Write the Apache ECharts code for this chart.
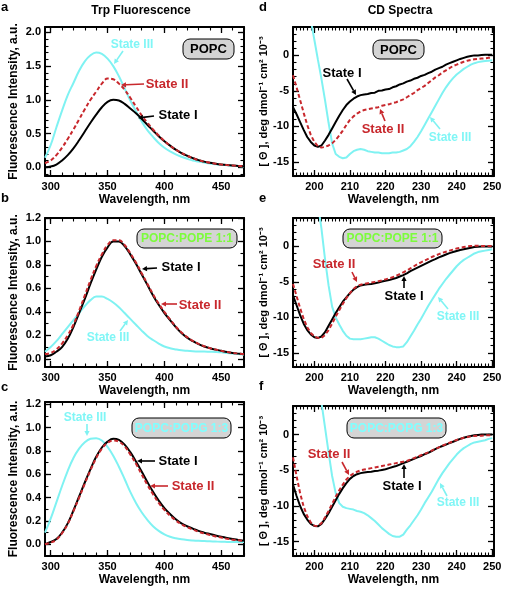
<!DOCTYPE html>
<html><head><meta charset="utf-8">
<script src="https://cdn.jsdelivr.net/npm/echarts@6/dist/echarts.min.js"></script>
<style>html,body{margin:0;padding:0;background:#fff}#c{width:505px;height:590px}</style>
</head><body><div id="c"></div>
<script>
// ---------- DATA ----------
const fluorWavelengths = [295,300,305,310,315,320,325,330,335,340,345,350,355,360,365,370,375,380,385,390,395,400,405,410,415,420,425,430,435,440,445,450,455,460,465,470];
// Panel a: POPC
const fluorPOPC_I   = [0.00,0.01,0.04,0.10,0.18,0.28,0.40,0.53,0.66,0.78,0.89,0.97,1.00,0.99,0.94,0.87,0.80,0.72,0.63,0.545,0.46,0.385,0.32,0.26,0.21,0.17,0.135,0.105,0.083,0.065,0.052,0.041,0.032,0.025,0.02,0.015];
const fluorPOPC_II  = [0.06,0.10,0.18,0.29,0.42,0.56,0.71,0.86,1.00,1.12,1.24,1.315,1.305,1.24,1.15,1.03,0.90,0.77,0.66,0.56,0.47,0.39,0.32,0.26,0.21,0.17,0.135,0.105,0.083,0.065,0.052,0.041,0.032,0.025,0.02,0.015];
const fluorPOPC_III = [0.14,0.33,0.59,0.84,1.07,1.25,1.43,1.57,1.66,1.70,1.68,1.61,1.50,1.35,1.17,0.99,0.83,0.68,0.55,0.45,0.36,0.29,0.235,0.19,0.155,0.125,0.10,0.085,0.07,0.055,0.045,0.035,0.03,0.022,0.018,0.012];
// Panel b: POPC:POPE 1:1
const fluorPOPE_I   = [0.02,0.03,0.06,0.10,0.17,0.27,0.39,0.51,0.64,0.76,0.87,0.95,1.00,1.00,0.96,0.89,0.81,0.72,0.63,0.54,0.46,0.39,0.33,0.27,0.22,0.18,0.15,0.125,0.105,0.09,0.078,0.068,0.058,0.05,0.044,0.038];
const fluorPOPE_II  = [0.04,0.05,0.08,0.13,0.20,0.29,0.41,0.54,0.67,0.79,0.89,0.97,1.01,1.01,0.97,0.90,0.82,0.73,0.64,0.55,0.47,0.40,0.335,0.275,0.225,0.185,0.153,0.127,0.107,0.091,0.079,0.068,0.058,0.05,0.044,0.038];
const fluorPOPE_III = [0.06,0.10,0.15,0.21,0.27,0.33,0.39,0.45,0.50,0.53,0.53,0.51,0.48,0.44,0.39,0.34,0.29,0.24,0.195,0.16,0.13,0.105,0.09,0.08,0.072,0.068,0.065,0.063,0.062,0.06,0.058,0.055,0.05,0.045,0.04,0.035];
// Panel c: POPC:POPG 1:3
const fluorPOPG_I   = [0.00,0.02,0.045,0.10,0.18,0.29,0.41,0.53,0.645,0.75,0.83,0.88,0.905,0.895,0.855,0.79,0.71,0.625,0.535,0.45,0.375,0.31,0.26,0.215,0.18,0.155,0.135,0.115,0.10,0.088,0.076,0.065,0.055,0.046,0.038,0.03];
const fluorPOPG_II  = [0.00,0.015,0.04,0.095,0.175,0.285,0.40,0.52,0.635,0.74,0.82,0.87,0.89,0.88,0.84,0.77,0.69,0.60,0.51,0.43,0.355,0.295,0.245,0.205,0.172,0.147,0.127,0.108,0.093,0.08,0.068,0.058,0.048,0.04,0.034,0.028];
const fluorPOPG_III = [0.10,0.22,0.36,0.50,0.63,0.74,0.82,0.875,0.905,0.91,0.89,0.835,0.76,0.665,0.56,0.45,0.355,0.275,0.21,0.155,0.115,0.085,0.065,0.052,0.043,0.037,0.033,0.03,0.028,0.026,0.024,0.022,0.021,0.02,0.02,0.02];

const cdWavelengths = [194,195,196,197,198,199,200,201,202,203,204,205,206,207,208,209,210,211,212,213,214,215,216,217,218,219,220,221,222,223,224,225,226,227,228,229,230,231,232,233,234,235,236,237,238,239,240,241,242,243,244,245,246,247,248,249,250];
// Panel d: POPC
const cdPOPC_I   = [-7.3,-8.3,-9.4,-10.5,-11.5,-12.2,-12.7,-12.9,-12.7,-12.0,-11.2,-10.3,-9.4,-8.5,-7.7,-7.0,-6.5,-6.1,-5.8,-5.6,-5.5,-5.45,-5.3,-5.25,-5.0,-4.95,-4.8,-4.75,-4.5,-4.35,-4.1,-3.95,-3.7,-3.55,-3.3,-3.15,-2.9,-2.75,-2.5,-2.3,-2.0,-1.8,-1.6,-1.3,-1.1,-0.9,-0.7,-0.5,-0.35,-0.2,-0.1,0.0,0.0,0.05,0.1,0.1,0.1];
const cdPOPC_II  = [-2.8,-4.5,-6.3,-8.1,-9.8,-11.2,-12.2,-12.8,-13.0,-12.9,-12.7,-12.4,-11.9,-11.3,-10.6,-9.8,-9.1,-8.6,-8.2,-7.9,-7.7,-7.6,-7.5,-7.4,-7.3,-7.1,-7.0,-6.9,-6.7,-6.6,-6.4,-6.2,-5.9,-5.6,-5.3,-4.9,-4.6,-4.3,-3.9,-3.5,-3.1,-2.8,-2.4,-2.1,-1.8,-1.5,-1.3,-1.1,-0.9,-0.75,-0.65,-0.55,-0.5,-0.45,-0.4,-0.35,-0.3];
const cdPOPC_III = [20,17,14,11,8,5,2.2,-0.6,-3.3,-6.3,-9.5,-12.4,-13.9,-14.3,-14.5,-14.4,-13.9,-13.5,-13.3,-13.2,-13.3,-13.5,-13.6,-13.7,-13.7,-13.8,-13.8,-13.8,-13.7,-13.7,-13.6,-13.4,-13.2,-12.8,-12.2,-11.5,-10.7,-9.8,-8.9,-8.0,-7.1,-6.2,-5.3,-4.5,-3.8,-3.2,-2.7,-2.3,-1.9,-1.6,-1.3,-1.1,-0.95,-0.85,-0.8,-0.75,-0.7];
// Panel e: POPC:POPE 1:1
const cdPOPE_I   = [-6.9,-8.3,-9.7,-10.9,-11.8,-12.4,-12.8,-12.9,-12.7,-12.1,-11.2,-10.3,-9.4,-8.6,-7.8,-7.2,-6.6,-6.1,-5.75,-5.5,-5.4,-5.35,-5.3,-5.2,-5.1,-4.95,-4.85,-4.75,-4.6,-4.45,-4.25,-4.05,-3.8,-3.5,-3.25,-3.0,-2.75,-2.5,-2.25,-2.0,-1.8,-1.55,-1.35,-1.15,-0.95,-0.8,-0.65,-0.5,-0.4,-0.3,-0.2,-0.1,-0.05,0,0,0,0];
const cdPOPE_II  = [-5.3,-7.0,-8.7,-10.2,-11.4,-12.2,-12.7,-12.9,-12.9,-12.5,-11.8,-10.9,-9.9,-9.0,-8.1,-7.3,-6.6,-6.0,-5.6,-5.4,-5.3,-5.2,-5.1,-5.0,-4.9,-4.8,-4.65,-4.5,-4.35,-4.15,-3.9,-3.65,-3.4,-3.1,-2.8,-2.5,-2.25,-2.0,-1.75,-1.5,-1.3,-1.1,-0.9,-0.75,-0.6,-0.45,-0.3,-0.2,-0.1,0,0.05,0.1,0.1,0.05,0.05,0.05,0.05];
const cdPOPE_III = [30,27,24,20,17,13,9.5,6,2.5,-1.8,-5.5,-8.5,-10.0,-11.0,-11.9,-12.6,-13.0,-13.1,-13.1,-13.1,-13.0,-12.9,-12.8,-12.8,-13.0,-13.3,-13.6,-13.9,-14.1,-14.2,-14.2,-14.1,-13.5,-12.7,-11.9,-11.0,-10.2,-9.3,-8.4,-7.6,-6.8,-6.0,-5.3,-4.6,-4.0,-3.4,-2.8,-2.3,-1.9,-1.6,-1.3,-1.0,-0.8,-0.7,-0.6,-0.5,-0.4];
// Panel f: POPC:POPG 1:3
const cdPOPG_I   = [-7.0,-8.6,-10.0,-11.1,-11.9,-12.5,-12.8,-12.85,-12.5,-11.8,-11.0,-10.1,-9.2,-8.3,-7.5,-6.8,-6.2,-5.8,-5.55,-5.4,-5.3,-5.25,-5.2,-5.1,-5.05,-4.95,-4.85,-4.7,-4.55,-4.4,-4.2,-4.0,-3.8,-3.6,-3.4,-3.2,-3.0,-2.75,-2.55,-2.3,-2.05,-1.8,-1.6,-1.4,-1.2,-1.0,-0.8,-0.6,-0.45,-0.3,-0.2,-0.1,-0.05,0,0,0,0];
const cdPOPG_II  = [-3.2,-5.8,-8.2,-10.1,-11.4,-12.3,-12.75,-12.8,-12.4,-11.6,-10.7,-9.7,-8.7,-7.8,-7.0,-6.3,-5.8,-5.45,-5.2,-5.0,-4.9,-4.8,-4.7,-4.6,-4.5,-4.4,-4.3,-4.2,-4.1,-4.0,-3.9,-3.8,-3.7,-3.5,-3.3,-3.1,-2.9,-2.7,-2.5,-2.25,-2.0,-1.8,-1.55,-1.35,-1.15,-0.95,-0.75,-0.6,-0.45,-0.35,-0.25,-0.2,-0.15,-0.15,-0.1,-0.1,-0.1];
const cdPOPG_III = [30,27,24,21,18,14.5,11,7.5,4.5,1.0,-2.5,-5.8,-8.2,-9.6,-10.1,-10.3,-10.4,-10.5,-10.7,-10.8,-11.0,-11.3,-11.7,-12.1,-12.6,-13.1,-13.5,-13.9,-14.2,-14.3,-14.3,-14.0,-13.3,-12.7,-12.0,-11.3,-10.5,-9.6,-8.8,-8.0,-7.1,-6.2,-5.4,-4.7,-4.0,-3.4,-2.8,-2.3,-1.9,-1.6,-1.3,-1.1,-1.0,-0.9,-0.8,-0.6,-0.5];

// tick labels
const fluorXTicks = [300,350,400,450];
const fluorYTicksA = [0,0.5,1.0,1.5,2.0];
const fluorYTicksBC = [0,0.2,0.4,0.6,0.8,1.0,1.2];
const cdXTicks = [200,210,220,230,240,250];
const cdYTicks = [-15,-10,-5,0];

// ---------- BUILD ----------
const FONT = '"Liberation Sans", Arial, Helvetica, sans-serif';
const C_BLACK = '#000000', C_RED = '#c8282d', C_CYAN = '#7ff2f2';
const grids = [], xAxes = [], yAxes = [], series = [];

function steps(a, b, s) { const r = []; for (let v = a; v <= b + 1e-9; v += s) r.push(Math.round(v * 1000) / 1000); return r; }

const lblStyle = {color:'#000', fontSize:11, fontWeight:'bold', fontFamily:FONT};
const nameStyle = {color:'#000', fontSize:12, fontWeight:'bold', fontFamily:FONT};

function addPanel(box, xs, ys) {
  const gi = grids.length;
  grids.push({left:box[0], top:box[1], width:box[2], height:box[3], containLabel:false});
  const base = (a) => ({gridIndex:gi, type:'value', min:a.min, max:a.max, splitLine:{show:false}, splitArea:{show:false}, axisPointer:{show:false}});
  const line = {show:true, onZero:false, lineStyle:{color:'#000', width:2}};
  const noLine = {show:false, onZero:false};
  const tMaj = (v) => ({show:true, inside:true, length:6, customValues:v, lineStyle:{color:'#000', width:1.3}});
  const tMin = (v) => ({show:true, inside:true, length:3.5, customValues:v, lineStyle:{color:'#000', width:1.1}});
  const xi = xAxes.length;
  xAxes.push(Object.assign(base(xs), {position:'bottom', axisLine:line, axisTick:tMaj(xs.major),
    axisLabel:Object.assign({show:true, customValues:xs.major, margin:5, formatter:xs.fmt}, lblStyle),
    name:'Wavelength, nm', nameLocation:'middle', nameGap:18, nameTextStyle:nameStyle}));
  xAxes.push(Object.assign(base(xs), {position:'bottom', axisLine:noLine, axisTick:tMin(xs.minor), axisLabel:{show:false}}));
  xAxes.push(Object.assign(base(xs), {position:'top', axisLine:line, axisTick:tMaj(xs.major), axisLabel:{show:false}}));
  xAxes.push(Object.assign(base(xs), {position:'top', axisLine:noLine, axisTick:tMin(xs.minor), axisLabel:{show:false}}));
  const yi = yAxes.length;
  yAxes.push(Object.assign(base(ys), {position:'left', axisLine:line, axisTick:tMaj(ys.major),
    axisLabel:Object.assign({show:true, customValues:ys.major, margin:4, formatter:ys.fmt}, lblStyle),
    name:ys.name, nameLocation:'middle', nameGap:ys.gap, nameRotate:90, nameTextStyle:Object.assign({}, nameStyle, ys.nameStyle || {})}));
  yAxes.push(Object.assign(base(ys), {position:'left', axisLine:noLine, axisTick:tMin(ys.minor), axisLabel:{show:false}}));
  yAxes.push(Object.assign(base(ys), {position:'right', axisLine:line, axisTick:tMaj(ys.major), axisLabel:{show:false}}));
  yAxes.push(Object.assign(base(ys), {position:'right', axisLine:noLine, axisTick:tMin(ys.minor), axisLabel:{show:false}}));
  return {xi, yi};
}

function addCurve(p, xsArr, ys, color, dashed, smooth) {
  series.push({type:'line', xAxisIndex:p.xi, yAxisIndex:p.yi, data:xsArr.map((x, i) => [x, ys[i]]),
    showSymbol:false, smooth:smooth, clip:true, silent:true,
    lineStyle:{color:color, width:2, type: dashed ? [4, 2.5] : 'solid'}});
}

const fX = {min:295, max:470, major:fluorXTicks, minor:steps(300, 470, 10), fmt:(v) => String(v)};
const fYname = 'Fluorescence Intensity, a.u.';
const fmt1 = (v) => Number(v).toFixed(1);
const cdX = {min:194, max:250.5, major:cdXTicks, minor:steps(194, 250, 1), fmt:(v) => String(v)};
const cdYname = '[ \u0398 ], deg dmol\u207B\u00B9 cm\u00B2 10\u207B\u00B3';
const cdY = {min:-17, max:4, major:cdYTicks, minor:steps(-17, 4, 1), fmt:(v) => String(v), name:cdYname, gap:16, nameStyle:{fontSize:11}};

const pA = addPanel([45, 27, 199, 149], fX, {min:-0.13, max:2.08, major:fluorYTicksA, minor:steps(-0.1, 2.0, 0.1), fmt:fmt1, name:fYname, gap:25});
const pB = addPanel([45, 218, 199, 149], fX, {min:-0.07, max:1.2, major:fluorYTicksBC, minor:steps(0, 1.2, 0.1), fmt:fmt1, name:fYname, gap:25});
const pC = addPanel([45, 402, 199, 154], fX, {min:-0.1, max:1.22, major:fluorYTicksBC, minor:steps(0, 1.2, 0.1), fmt:fmt1, name:fYname, gap:25});
const pD = addPanel([293, 27, 201, 149], cdX, cdY);
const pE = addPanel([293, 218, 201, 149], cdX, cdY);
const pF = addPanel([293, 406, 201, 150], cdX, cdY);

[[pA, fluorPOPC_III, fluorPOPC_I, fluorPOPC_II], [pB, fluorPOPE_III, fluorPOPE_I, fluorPOPE_II], [pC, fluorPOPG_III, fluorPOPG_I, fluorPOPG_II]].forEach(([p, s3, s1, s2]) => {
  addCurve(p, fluorWavelengths, s3, C_CYAN, false, 0.4);
  addCurve(p, fluorWavelengths, s1, C_BLACK, false, 0.4);
  addCurve(p, fluorWavelengths, s2, C_RED, true, 0.4);
});
[[pD, cdPOPC_III, cdPOPC_I, cdPOPC_II], [pE, cdPOPE_III, cdPOPE_I, cdPOPE_II], [pF, cdPOPG_III, cdPOPG_I, cdPOPG_II]].forEach(([p, s3, s1, s2]) => {
  addCurve(p, cdWavelengths, s3, C_CYAN, false, false);
  addCurve(p, cdWavelengths, s1, C_BLACK, false, false);
  addCurve(p, cdWavelengths, s2, C_RED, true, false);
});

// ---------- ANNOTATIONS ----------
const G = [];
function txt(x, y, t, color, size, align) {
  G.push({type:'text', x:x, y:y, z:100, silent:true, style:{text:t, fill:color, font:'bold ' + size + 'px ' + FONT, align:align || 'center', verticalAlign:'middle'}});
}
function arrow(x1, y1, x2, y2, color) {
  const a = Math.atan2(y2 - y1, x2 - x1), L = 5, W = 2.6;
  const bx = x2 - L * Math.cos(a), by = y2 - L * Math.sin(a);
  const px = -Math.sin(a) * W, py = Math.cos(a) * W;
  G.push({type:'line', z:100, silent:true, shape:{x1:x1, y1:y1, x2:bx, y2:by}, style:{stroke:color, lineWidth:1.6}});
  G.push({type:'polygon', z:100, silent:true, shape:{points:[[x2, y2], [bx + px, by + py], [bx - px, by - py]]}, style:{fill:color}});
}
function box(x, y, w, h, t, color, size) {
  G.push({type:'rect', z:90, silent:true, shape:{x:x, y:y, width:w, height:h, r:7}, style:{fill:'#d4d4d4', stroke:'#000', lineWidth:1}});
  txt(x + w / 2, y + h / 2 + 0.5, t, color, size);
}

txt(141, 11, 'Trp Fluorescence', '#000', 12);
txt(400, 11, 'CD Spectra', '#000', 12);
txt(1, 7, 'a', '#000', 13, 'left');
txt(1, 198, 'b', '#000', 13, 'left');
txt(1, 387, 'c', '#000', 13, 'left');
txt(259, 7, 'd', '#000', 13, 'left');
txt(259, 198, 'e', '#000', 13, 'left');
txt(259, 386, 'f', '#000', 13, 'left');

box(183, 39, 51, 20, 'POPC', '#000', 13);
box(373, 40, 51, 19, 'POPC', '#000', 13);
box(137, 229, 100, 19, 'POPC:POPE 1:1', '#7cfc3c', 12);
box(343, 229, 99, 19, 'POPC:POPE 1:1', '#7cfc3c', 12);
box(132, 418, 99, 20, 'POPC:POPG 1:3', '#80ffff', 12);
box(347, 418, 99, 20, 'POPC:POPG 1:3', '#80ffff', 12);

// panel a
txt(132, 45, 'State III', '#80f6f6', 12); arrow(123, 51, 114, 64, C_CYAN);
txt(167, 84, 'State II', C_RED, 13); arrow(144, 84, 121, 85, C_RED);
txt(178, 115, 'State I', '#000', 13); arrow(154, 116, 138, 118, '#000');
// panel b
txt(181, 267, 'State I', '#000', 13); arrow(157, 268, 142, 269, '#000');
txt(200, 305, 'State II', C_RED, 13); arrow(177, 304, 161, 304, C_RED);
txt(108, 338, 'State III', '#80f6f6', 12); arrow(120, 331, 128, 320, C_CYAN);
// panel c
txt(85, 418, 'State III', '#80f6f6', 12); arrow(87, 424, 87, 436, C_CYAN);
txt(178, 461, 'State I', '#000', 13); arrow(155, 461, 137, 461, '#000');
txt(193, 486, 'State II', C_RED, 13); arrow(168, 486, 150, 486, C_RED);
// panel d
txt(342, 73, 'State I', '#000', 13); arrow(347, 79, 356, 95, '#000');
txt(383, 129, 'State II', C_RED, 13); arrow(385, 121, 380, 109, C_RED);
txt(450, 138, 'State III', '#80f6f6', 12); arrow(440, 129, 430, 117, C_CYAN);
// panel e
txt(334, 264, 'State II', C_RED, 13); arrow(352, 272, 357, 282, C_RED);
txt(404, 296, 'State I', '#000', 13); arrow(404, 288, 404, 276, '#000');
txt(458, 317, 'State III', '#80f6f6', 12); arrow(448, 309, 438, 297, C_CYAN);
// panel f
txt(329, 454, 'State II', C_RED, 13); arrow(342, 462, 349, 475, C_RED);
txt(402, 486, 'State I', '#000', 13); arrow(404, 478, 404, 464, '#000');
txt(458, 503, 'State III', '#80f6f6', 12); arrow(447, 496, 440, 483, C_CYAN);

const chart = echarts.init(document.getElementById('c'), null, {renderer:'canvas'});
chart.setOption({animation:false, backgroundColor:'#fff', grid:grids, xAxis:xAxes, yAxis:yAxes, series:series, graphic:G});
</script></body></html>
